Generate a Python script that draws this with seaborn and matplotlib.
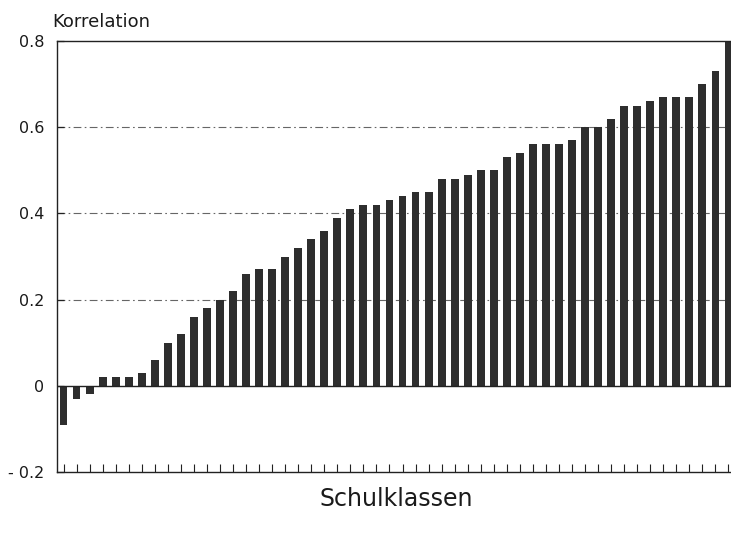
import matplotlib
matplotlib.use("Agg")
import matplotlib.pyplot as plt
import seaborn as sns
import pandas as pd

# Data: correlation per school class (sorted)
klassen = list(range(1, 53))
korrelation = [-0.09, -0.03, -0.02, 0.02, 0.02, 0.02, 0.03, 0.06, 0.10, 0.12,
               0.16, 0.18, 0.20, 0.22, 0.26, 0.27, 0.27, 0.30, 0.32, 0.34,
               0.36, 0.39, 0.41, 0.42, 0.42, 0.43, 0.44, 0.45, 0.45, 0.48,
               0.48, 0.49, 0.50, 0.50, 0.53, 0.54, 0.56, 0.56, 0.56, 0.57,
               0.60, 0.60, 0.62, 0.65, 0.65, 0.66, 0.67, 0.67, 0.67, 0.70,
               0.73, 0.80]
ytick_values = [-0.2, 0, 0.2, 0.4, 0.6, 0.8]
ytick_labels = ["- 0.2", "0", "0.2", "0.4", "0.6", "0.8"]
grid_values = [0.2, 0.4, 0.6]

df = pd.DataFrame({"Klasse": klassen, "Korrelation": korrelation})

sns.set_style("white")
plt.rcParams['font.family'] = ['DejaVu Sans']

W, H = 731, 533
fig = plt.figure(figsize=(W / 100, H / 100), dpi=100)
left, right, top, bottom = 57, 735, 41, 472
ax = fig.add_axes([left / W, (H - bottom) / H, (right - left) / W, (bottom - top) / H])

for g in grid_values:
    ax.axhline(g, color="#666666", lw=0.8, ls=(0, (7, 3, 1.5, 3)), zorder=0)
ax.axhline(0, color="#222222", lw=1.0, zorder=3)

sns.barplot(data=df, x="Klasse", y="Korrelation", color="#2e2e2e",
            saturation=1, width=0.6, ax=ax, zorder=2)
for p in ax.patches:
    p.set_edgecolor("none")

ax.set_xlim(-0.5, len(klassen) - 0.5)
ax.set_ylim(-0.2, 0.8)
ax.set_yticks(ytick_values)
ax.set_yticklabels(ytick_labels, fontsize=11.5, color="#1a1a1a")
ax.set_xticks(range(len(klassen)))
ax.set_xticklabels([])
ax.tick_params(axis="x", direction="in", length=6, width=0.8, color="#222222", bottom=True)
ax.tick_params(axis="y", direction="in", length=5, width=0.9, color="#222222", left=True, pad=9)
ax.set_xlabel("")
ax.set_ylabel("")

for s in ["left", "bottom", "top"]:
    ax.spines[s].set_visible(True)
    ax.spines[s].set_color("#222222")
    ax.spines[s].set_linewidth(1.0)
ax.spines["right"].set_visible(False)

fig.text(52 / W, 1 - 27 / H, "Korrelation", fontsize=13, ha="left", va="baseline", color="#1a1a1a")
fig.text(396 / W, 1 - 506 / H, "Schulklassen", fontsize=17, ha="center", va="baseline", color="#1a1a1a")

fig.savefig("out.png", dpi=100, facecolor="white")
